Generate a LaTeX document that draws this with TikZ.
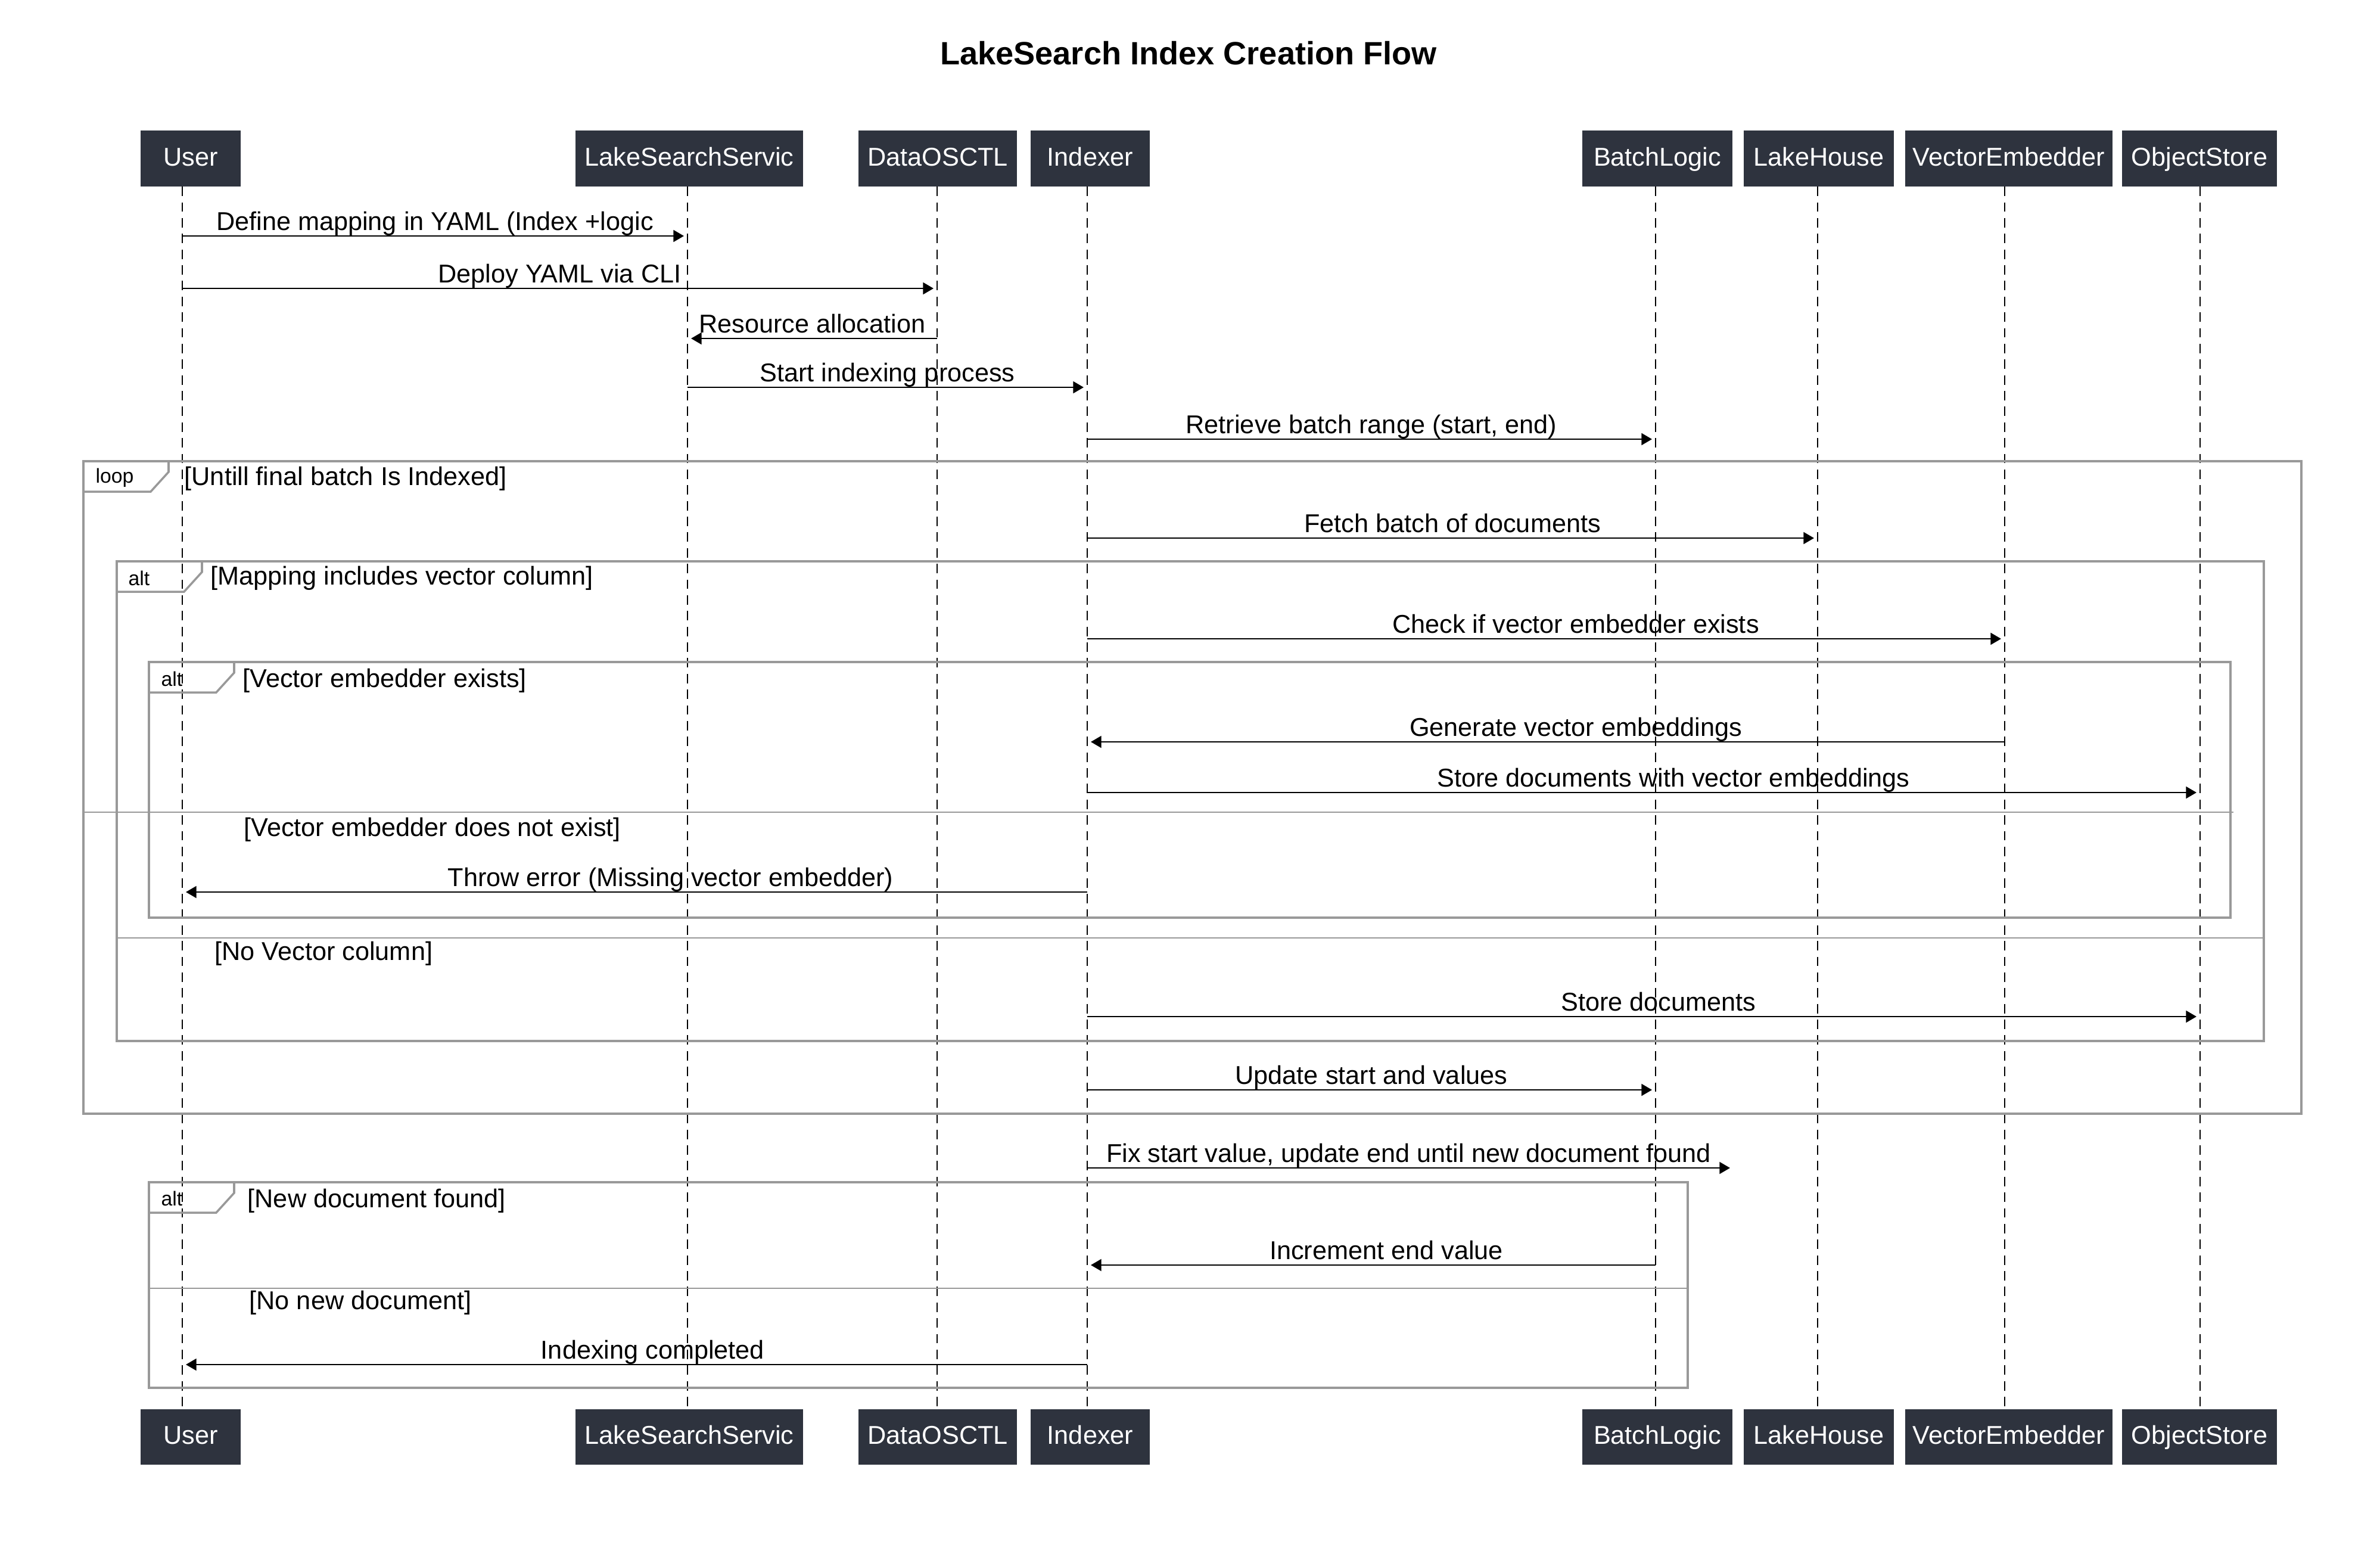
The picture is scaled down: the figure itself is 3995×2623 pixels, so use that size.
\documentclass[tikz,border=0pt]{standalone}
\usepackage{fontspec}
\setmainfont{Liberation Sans}
\usepackage{xcolor}
\usepackage{tikz}
\usetikzlibrary{arrows.meta}
\definecolor{actorbg}{HTML}{2E333E}
\definecolor{framegrey}{HTML}{999999}

\begin{document}
\begin{tikzpicture}[x=0.01cm, y=-0.01cm, font=\fontsize{12.3}{14}\selectfont]
  \tikzstyle{actor}=[fill=actorbg, text=white, minimum height=0.93cm, inner sep=0pt,
    text height=0.93em, text depth=0.21em] % participant boxes
  \tikzstyle{life}=[line width=0.55pt, dash pattern=on 4.5pt off 3pt] % lifelines are dashed
  \tikzstyle{msg}=[line width=0.8pt, -{Triangle[length=5pt,width=5.6pt]}, shorten >=1.7pt]
  \tikzstyle{lab}=[anchor=base, yshift=2.8pt, inner sep=0pt] % message text sits on the arrow
  \tikzstyle{box}=[framegrey, line width=1pt] % loop and alt frames
  \tikzstyle{divider}=[framegrey, line width=0.6pt]
  \tikzstyle{tag}=[anchor=west, inner sep=0pt, font=\fontsize{9.6}{11}\selectfont]
  \tikzstyle{guard}=[anchor=west, inner sep=0pt]

  \useasboundingbox (0,0) rectangle (3995,2623);
  \node[font=\bfseries\fontsize{15.4}{18}\selectfont] (title) at (1995,89) {LakeSearch Index Creation Flow};

  % participants, top and bottom, with their lifelines
  \foreach \n/\x/\lx/\w/\t in {u/320/306/1.67/User, l/1157/1154/3.82/LakeSearchServic,
      d/1574/1573/2.66/DataOSCTL, i/1830/1825/1.99/Indexer, b/2782/2779/2.52/BatchLogic,
      h/3053/3051/2.52/LakeHouse, v/3372/3365/3.47/VectorEmbedder, o/3692/3693/2.60/ObjectStore}{
    \node[actor, minimum width=\w cm] (top\n) at (\x,266) {\t};
    \node[actor, minimum width=\w cm] (bot\n) at (\x,2411) {\t};
    \coordinate (line\n) at (\lx,266);
    \draw[life] (top\n.south -| line\n) -- (bot\n.north -| line\n);
  }

  % frames
  \draw[box] (140,774) rectangle (3863,1869);
  \draw[box] (196,942) rectangle (3800,1747);
  \draw[box] (250,1111) rectangle (3744,1540);
  \draw[box] (250,1984) rectangle (2833,2329);
  \foreach \x/\y in {140/774, 196/942, 250/1111, 250/1984}
    \draw[box] (\x,\y) -- ++(143,0) -- ++(0,18) -- ++(-30,33) -- (\x,\y+51);
  \draw[divider] (140,1363) -- (3749,1363);
  \draw[divider] (196,1574) -- (3800,1574);
  \draw[divider] (250,2162) -- (2833,2162);

  \node[tag] (tagloop) at (160,802) {loop};
  \node[tag] (tagalt1) at (215,970) {alt};
  \node[tag] (tagalt2) at (270,1139) {alt};
  \node[tag] (tagalt3) at (270,2011) {alt};

  \node[guard] (g1) at (309,803) {[Untill final batch Is Indexed]};
  \node[guard] (g2) at (353,970) {[Mapping includes vector column]};
  \node[guard] (g3) at (407,1142) {[Vector embedder exists]};
  \node[guard] (g4) at (409,1392) {[Vector embedder does not exist]};
  \node[guard] (g5) at (360,1600) {[No Vector column]};
  \node[guard] (g6) at (415,2015) {[New document found]};
  \node[guard] (g7) at (418,2186) {[No new document]};

  % messages
  \foreach \a/\b/\y/\dx/\t in {
      u/l/396/0/{Define mapping in YAML (Index +logic},
      u/d/484/0/{Deploy YAML via CLI},
      d/l/568/0/{Resource allocation},
      l/i/650/0/{Start indexing process},
      i/b/737/0/{Retrieve batch range (start, end)},
      i/h/903/0/{Fetch batch of documents},
      i/v/1072/50/{Check if vector embedder exists},
      v/i/1245/50/{Generate vector embeddings},
      i/o/1330/50/{Store documents with vector embeddings},
      i/u/1497/60/{Throw error (Missing vector embedder)},
      i/o/1706/25/{Store documents},
      i/b/1829/0/{Update start and values},
      b/i/2123/25/{Increment end value},
      i/u/2290/30/{Indexing completed}}
    \draw[msg] (line\a |- 0,\y) -- (line\b |- 0,\y) node[lab, pos=0.5, xshift=\dx*0.01cm] (m\y) {\t};

  \coordinate (fixend) at (2904,1960);
  \draw[msg, shorten >=0pt] (linei |- fixend) -- (fixend) node[lab, pos=0.5] (mfix) {Fix start value, update end until new document found};
\end{tikzpicture}
\end{document}
